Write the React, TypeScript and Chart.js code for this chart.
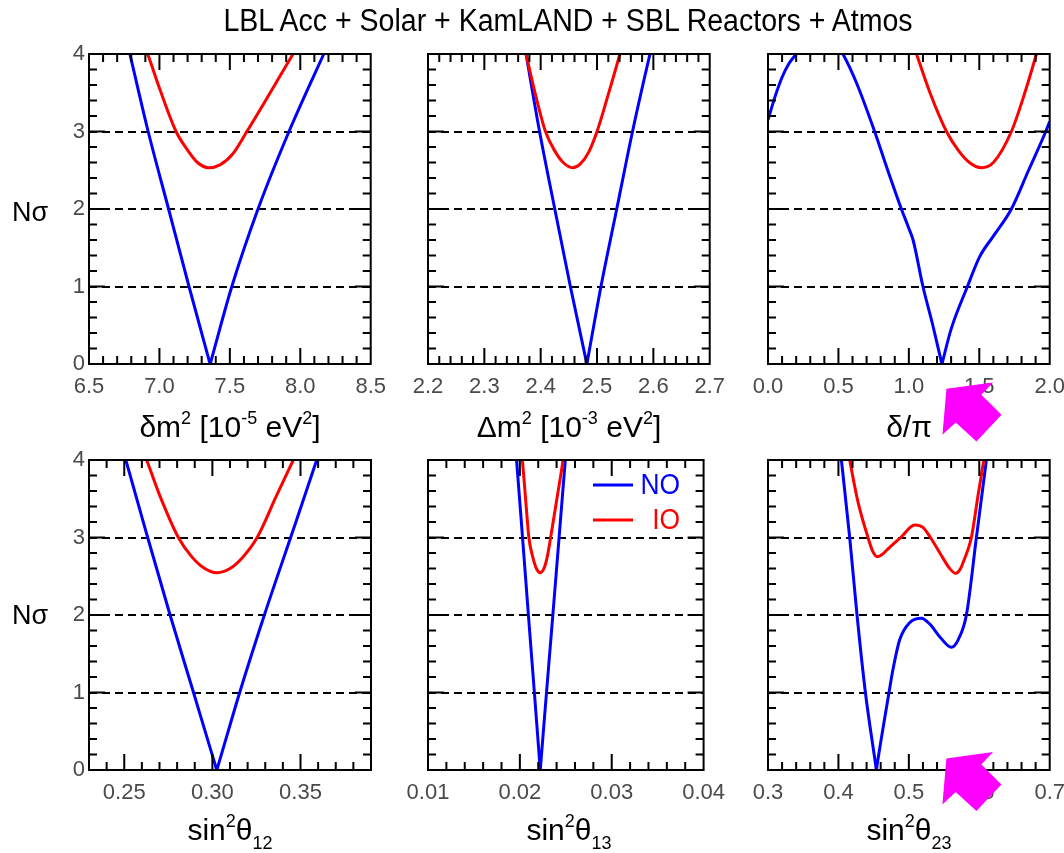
import React, { useEffect, useRef } from 'react';
import { Chart, registerables } from 'chart.js';

Chart.register(...registerables);

const FONT = "'Liberation Sans', Arial, Helvetica, sans-serif";

// ---------- shared y axis ----------
const yTickVals = [0, 1, 2, 3, 4];
const yTickLabels = ['0', '1', '2', '3', '4'];
const yDashedVals = [1, 2, 3];

// ---------- panel 1: δm² ----------
const dmTickVals = [6.5, 7.0, 7.5, 8.0, 8.5];
const dmTickLabels = ['6.5', '7.0', '7.5', '8.0', '8.5'];
const dmNO_x = [6.75, 6.79, 6.92, 7.065, 7.21, 7.3507, 7.36, 7.3692, 7.514, 7.70, 7.92, 8.167, 8.21];
const dmNO_y = [4.3, 4.0, 3.0, 2.0, 1.0, 0.06, 0.0, 0.06, 1.0, 2.0, 3.0, 4.0, 4.17];
const dmIO_x = [6.88, 6.916, 7.0, 7.118, 7.2, 7.27, 7.35, 7.43, 7.52, 7.621, 7.78, 7.949, 7.99];
const dmIO_y = [4.15, 4.0, 3.56, 3.0, 2.76, 2.6, 2.533, 2.57, 2.71, 3.0, 3.48, 4.0, 4.12];

// ---------- panel 2: Δm² ----------
const DmTickVals = [2.2, 2.3, 2.4, 2.5, 2.6, 2.7];
const DmTickLabels = ['2.2', '2.3', '2.4', '2.5', '2.6', '2.7'];
const DmNO_x = [2.368, 2.374, 2.398, 2.425, 2.4527, 2.4802, 2.482, 2.4835, 2.507, 2.535, 2.563, 2.594, 2.598];
const DmNO_y = [4.25, 4.0, 3.0, 2.0, 1.0, 0.06, 0.0, 0.06, 1.0, 2.0, 3.0, 4.0, 4.12];
const DmIO_x = [2.368, 2.374, 2.39, 2.4085, 2.425, 2.44, 2.4567, 2.47, 2.485, 2.50, 2.52, 2.5406, 2.545];
const DmIO_y = [4.2, 4.0, 3.5, 3.0, 2.75, 2.6, 2.533, 2.58, 2.73, 3.0, 3.48, 4.0, 4.12];

// ---------- panel 3: δ/π ----------
const dcpTickVals = [0, 0.5, 1.0, 1.5, 2.0];
const dcpTickLabels = ['0.0', '0.5', '1.0', '1.5', '2.0'];
const dcpNO_x = [0, 0.05, 0.1, 0.15, 0.2, 0.28, 0.37, 0.46, 0.532, 0.63, 0.757, 0.85, 0.947, 1.0, 1.03, 1.1, 1.17, 1.228, 1.235, 1.242, 1.3, 1.416, 1.503, 1.6, 1.728, 1.85, 1.972, 2.0];
const dcpNO_y = [3.15, 3.45, 3.7, 3.88, 4.0, 4.2, 4.28, 4.2, 4.0, 3.62, 3.0, 2.5, 2.0, 1.75, 1.6, 1.0, 0.5, 0.05, 0.0, 0.05, 0.45, 1.0, 1.385, 1.65, 2.0, 2.5, 3.0, 3.13];
const dcpIO_x = [1.03, 1.054, 1.15, 1.267, 1.35, 1.43, 1.515, 1.6, 1.728, 1.82, 1.906, 1.93];
const dcpIO_y = [4.12, 4.0, 3.5, 3.0, 2.76, 2.6, 2.533, 2.6, 3.0, 3.48, 4.0, 4.15];

// ---------- panel 4: sin²θ12 ----------
const s12TickVals = [0.25, 0.30, 0.35];
const s12TickLabels = ['0.25', '0.30', '0.35'];
const s12NO_x = [0.2495, 0.2509, 0.2633, 0.276, 0.2893, 0.3017, 0.3025, 0.3033, 0.3155, 0.3295, 0.3444, 0.3592, 0.3605];
const s12NO_y = [4.12, 4.0, 3.0, 2.0, 1.0, 0.06, 0.0, 0.06, 1.0, 2.0, 3.0, 4.0, 4.09];
const s12IO_x = [0.26, 0.2627, 0.27, 0.2807, 0.288, 0.295, 0.3026, 0.31, 0.317, 0.3254, 0.336, 0.3459, 0.348];
const s12IO_y = [4.15, 4.0, 3.55, 3.0, 2.76, 2.61, 2.546, 2.6, 2.74, 3.0, 3.52, 4.0, 4.1];

// ---------- panel 5: sin²θ13 ----------
const s13TickVals = [0.01, 0.02, 0.03, 0.04];
const s13TickLabels = ['0.01', '0.02', '0.03', '0.04'];
const s13NO_x = [0.0195, 0.01964, 0.02029, 0.02093, 0.02158, 0.022182, 0.02222, 0.022261, 0.0229, 0.02359, 0.02427, 0.02495, 0.0251];
const s13NO_y = [4.2, 4.0, 3.0, 2.0, 1.0, 0.06, 0.0, 0.06, 1.0, 2.0, 3.0, 4.0, 4.2];
const s13IO_x = [0.02015, 0.02027, 0.02065, 0.02098, 0.0214, 0.0218, 0.02222, 0.02262, 0.023, 0.02335, 0.0241, 0.0247, 0.0248];
const s13IO_y = [4.12, 4.0, 3.46, 3.0, 2.75, 2.6, 2.546, 2.6, 2.76, 3.0, 3.55, 4.0, 4.1];

// ---------- panel 6: sin²θ23 ----------
const s23TickVals = [0.3, 0.4, 0.5, 0.6, 0.7];
const s23TickLabels = ['0.3', '0.4', '0.5', '0.6', '0.7'];
const s23NO_x = [0.4005, 0.4042, 0.416, 0.4264, 0.4383, 0.4528, 0.4539, 0.455, 0.4718, 0.4775, 0.487, 0.501, 0.5178, 0.53, 0.5438, 0.5604, 0.57, 0.5817, 0.5959, 0.6101, 0.614];
const s23NO_y = [4.3, 4.0, 3.0, 2.0, 1.0, 0.07, 0.0, 0.07, 1.0, 1.3, 1.68, 1.9, 1.957, 1.88, 1.72, 1.583, 1.68, 2.0, 3.0, 4.0, 4.28];
const s23IO_x = [0.41, 0.416, 0.428, 0.442, 0.4487, 0.4553, 0.462, 0.47, 0.4884, 0.5083, 0.52, 0.5306, 0.548, 0.558, 0.5665, 0.5735, 0.578, 0.5888, 0.598, 0.6063, 0.61];
const s23IO_y = [4.3, 4.0, 3.45, 3.0, 2.82, 2.752, 2.78, 2.85, 3.0, 3.161, 3.13, 3.0, 2.74, 2.6, 2.538, 2.6, 2.7, 3.0, 3.53, 4.0, 4.25];

// ---------- layout / style ----------
const AREA_L = [89, 428, 768];
const AREA_T = [54, 460];
const AREA_W = 282;
const AREA_H = 310;
const PAD_T = 20;
const PAD_R = 25;
const X_AXIS_H = 40;
const EXTRA_B = 45;
const MAJOR_LEN = 16;
const MINOR_LEN = 8;
const BLUE = '#0000ff';
const RED = '#ff0000';
const TICK_COLOR = '#4a4a4a';
const ARROW_SHAPE = [[0, 0], [46.6, -6.3], [35, 6], [55, 26], [30, 52.7], [9.3, 33.7], [-4, 46]];

const Sup = ({ children }: { children: any }) => (
  <span style={{ fontSize: '0.6em', position: 'relative', top: '-0.68em' }}>{children}</span>
);
const Sub = ({ children }: { children: any }) => (
  <span style={{ fontSize: '0.6em', position: 'relative', top: '0.55em' }}>{children}</span>
);

type PanelDef = {
  id: string; col: number; row: number; range: number[]; minor: number;
  tickVals: number[]; tickLabels: string[];
  noX: number[]; noY: number[]; ioX: number[]; ioY: number[];
  legend?: boolean; arrow?: { x: number; y: number };
  title: any;
};

const PANELS: PanelDef[] = [
  { id: 'dm', col: 0, row: 0, range: [6.5, 8.5], minor: 0.1, tickVals: dmTickVals, tickLabels: dmTickLabels,
    noX: dmNO_x, noY: dmNO_y, ioX: dmIO_x, ioY: dmIO_y,
    title: <>δm<Sup>2</Sup> [10<Sup>-5</Sup> eV<Sup>2</Sup>]</> },
  { id: 'Dm', col: 1, row: 0, range: [2.2, 2.7], minor: 0.02, tickVals: DmTickVals, tickLabels: DmTickLabels,
    noX: DmNO_x, noY: DmNO_y, ioX: DmIO_x, ioY: DmIO_y,
    title: <>Δm<Sup>2</Sup> [10<Sup>-3</Sup> eV<Sup>2</Sup>]</> },
  { id: 'dcp', col: 2, row: 0, range: [0, 2], minor: 0.1, tickVals: dcpTickVals, tickLabels: dcpTickLabels,
    noX: dcpNO_x, noY: dcpNO_y, ioX: dcpIO_x, ioY: dcpIO_y, arrow: { x: 1.267, y: -0.32 },
    title: <>δ/π</> },
  { id: 's12', col: 0, row: 1, range: [0.23, 0.39], minor: 0.01, tickVals: s12TickVals, tickLabels: s12TickLabels,
    noX: s12NO_x, noY: s12NO_y, ioX: s12IO_x, ioY: s12IO_y,
    title: <>sin<Sup>2</Sup>θ<Sub>12</Sub></> },
  { id: 's13', col: 1, row: 1, range: [0.01, 0.04], minor: 0.002, tickVals: s13TickVals, tickLabels: s13TickLabels,
    noX: s13NO_x, noY: s13NO_y, ioX: s13IO_x, ioY: s13IO_y, legend: true,
    title: <>sin<Sup>2</Sup>θ<Sub>13</Sub></> },
  { id: 's23', col: 2, row: 1, range: [0.3, 0.7], minor: 0.02, tickVals: s23TickVals, tickLabels: s23TickLabels,
    noX: s23NO_x, noY: s23NO_y, ioX: s23IO_x, ioY: s23IO_y, arrow: { x: 0.5533, y: 0.15 },
    title: <>sin<Sup>2</Sup>θ<Sub>23</Sub></> },
];

function matchIndex(v: number, vals: number[]) {
  for (let i = 0; i < vals.length; i++) if (Math.abs(v - vals[i]) < 1e-6) return i;
  return -1;
}

function zip(xs: number[], ys: number[]) {
  return xs.map((x, i) => ({ x, y: ys[i] }));
}

const framePlugin = {
  id: 'frame',
  afterDraw(chart: any, _args: any, o: any) {
    const { ctx, chartArea: a } = chart;
    const xs = chart.scales.x;
    const ys = chart.scales.y;
    ctx.save();
    ctx.strokeStyle = '#000';
    ctx.lineWidth = 2;
    ctx.lineCap = 'butt';
    ctx.beginPath();
    xs.ticks.forEach((t: any) => {
      const p = xs.getPixelForValue(t.value);
      if (p < a.left + 1 || p > a.right - 1) return;
      const len = matchIndex(t.value, o.xMajor) >= 0 ? MAJOR_LEN : MINOR_LEN;
      ctx.moveTo(p, a.bottom); ctx.lineTo(p, a.bottom - len);
      ctx.moveTo(p, a.top); ctx.lineTo(p, a.top + len);
    });
    ys.ticks.forEach((t: any) => {
      const p = ys.getPixelForValue(t.value);
      if (p < a.top + 1 || p > a.bottom - 1) return;
      const len = matchIndex(t.value, o.yMajor) >= 0 ? MAJOR_LEN : MINOR_LEN;
      ctx.moveTo(a.left, p); ctx.lineTo(a.left + len, p);
      ctx.moveTo(a.right, p); ctx.lineTo(a.right - len, p);
    });
    ctx.stroke();
    ctx.strokeRect(a.left, a.top, a.right - a.left, a.bottom - a.top);

    if (o.legend) {
      const rows = [0, 1].map((i) => chart.data.datasets.find((d: any) => d.legendRank === i));
      rows.forEach((d: any, i: number) => {
        const y = a.top + 25 + i * 35;
        ctx.strokeStyle = d.borderColor;
        ctx.lineWidth = 3;
        ctx.beginPath();
        ctx.moveTo(a.left + 165, y);
        ctx.lineTo(a.left + 205, y);
        ctx.stroke();
        ctx.save();
        ctx.translate(a.left + 252, y + 1);
        ctx.scale(0.88, 1);
        ctx.fillStyle = d.borderColor;
        ctx.font = `30px ${FONT}`;
        ctx.textAlign = 'right';
        ctx.textBaseline = 'middle';
        ctx.fillText(d.label, 0, 0);
        ctx.restore();
      });
    }

    if (o.arrow) {
      const tx = xs.getPixelForValue(o.arrow.x);
      const ty = ys.getPixelForValue(o.arrow.y);
      ctx.fillStyle = '#ff00ff';
      ctx.beginPath();
      ARROW_SHAPE.forEach(([dx, dy], i) => {
        if (i === 0) ctx.moveTo(tx + dx, ty + dy); else ctx.lineTo(tx + dx, ty + dy);
      });
      ctx.closePath();
      ctx.fill();
    }
    ctx.restore();
  },
};

function Panel({ def }: { def: PanelDef }) {
  const ref = useRef<HTMLCanvasElement>(null);
  const padL = def.col === 0 ? AREA_L[0] : 50;
  const left = AREA_L[def.col] - padL;
  const top = AREA_T[def.row] - PAD_T;
  const W = padL + AREA_W + PAD_R;
  const H = PAD_T + AREA_H + X_AXIS_H + EXTRA_B;

  useEffect(() => {
    const showY = def.col === 0;
    const chart = new Chart(ref.current as HTMLCanvasElement, {
      type: 'line',
      data: {
        datasets: [
          {
            label: 'NO', legendRank: 0, order: 1,
            data: zip(def.noX, def.noY),
            borderColor: BLUE, backgroundColor: BLUE, borderWidth: 3, pointRadius: 0,
            tension: 0, cubicInterpolationMode: 'monotone',
            clip: 0, fill: false,
          } as any,
          {
            label: 'IO', legendRank: 1, order: 0,
            data: zip(def.ioX, def.ioY),
            borderColor: RED, backgroundColor: RED, borderWidth: 3, pointRadius: 0,
            tension: 0, cubicInterpolationMode: 'monotone',
            clip: 0, fill: false,
          } as any,
        ],
      },
      options: {
        animation: false,
        responsive: false,
        events: [],
        layout: { padding: { left: 0, top: PAD_T, right: PAD_R, bottom: EXTRA_B } },
        plugins: {
          legend: { display: false },
          tooltip: { enabled: false },
          frame: { xMajor: def.tickVals, yMajor: yTickVals, legend: !!def.legend, arrow: def.arrow },
        } as any,
        scales: {
          x: {
            type: 'linear',
            min: def.range[0],
            max: def.range[1],
            ticks: {
              stepSize: def.minor,
              autoSkip: false,
              maxRotation: 0,
              minRotation: 0,
              padding: 10,
              color: TICK_COLOR,
              font: { family: FONT, size: 22 },
              callback: (v: any) => {
                const i = matchIndex(Number(v), def.tickVals);
                return i >= 0 ? def.tickLabels[i] : '';
              },
            },
            grid: { display: false, drawTicks: false },
            border: { display: false },
            afterFit: (s: any) => { s.height = X_AXIS_H; },
          },
          y: {
            type: 'linear',
            min: 0,
            max: 4,
            ticks: {
              stepSize: 0.2,
              autoSkip: false,
              padding: 4,
              color: TICK_COLOR,
              font: { family: FONT, size: 22 },
              callback: (v: any) => {
                if (!showY) return '';
                const i = matchIndex(Number(v), yTickVals);
                return i >= 0 ? yTickLabels[i] : '';
              },
            },
            grid: {
              drawTicks: false,
              lineWidth: 2,
              color: (c: any) => {
                const v = c.tick ? c.tick.value : NaN;
                return matchIndex(v, yDashedVals) >= 0 ? '#000' : 'rgba(0,0,0,0)';
              },
            },
            border: { display: false, dash: [8, 5] },
            afterFit: (s: any) => { s.width = padL; },
          },
        },
      } as any,
      plugins: [framePlugin as any],
    });
    return () => chart.destroy();
  }, []);

  return (
    <canvas
      ref={ref}
      width={W}
      height={H}
      style={{ position: 'absolute', left, top, width: W, height: H }}
    />
  );
}

function Label({ cx, baseline, size, scaleX = 1, children }: { cx: number; baseline: number; size: number; scaleX?: number; children: any }) {
  return (
    <div
      style={{
        position: 'absolute',
        left: cx,
        top: baseline - 0.8465 * size,
        transform: `translateX(-50%) scaleX(${scaleX})`,
        fontFamily: FONT,
        fontSize: size,
        lineHeight: 1,
        whiteSpace: 'nowrap',
        color: '#000',
      }}
    >
      {children}
    </div>
  );
}

const TITLE = 'LBL Acc + Solar + KamLAND + SBL Reactors + Atmos';
const X_TITLE_BASE = [437, 840];
const NSIG_BASE = [222, 625];

export default function App() {
  return (
    <div style={{ position: 'absolute', left: 0, top: 0, width: 1064, height: 853, overflow: 'hidden', background: '#fff' }}>
      {PANELS.map((p) => <Panel key={p.id} def={p} />)}
      <Label cx={568} baseline={31} size={31} scaleX={0.92}>{TITLE}</Label>
      {PANELS.map((p) => (
        <Label key={'t' + p.id} cx={AREA_L[p.col] + AREA_W / 2} baseline={X_TITLE_BASE[p.row]} size={30}>
          {p.title}
        </Label>
      ))}
      {NSIG_BASE.map((b, i) => (
        <Label key={'n' + i} cx={30} baseline={b} size={27}>Nσ</Label>
      ))}
    </div>
  );
}
